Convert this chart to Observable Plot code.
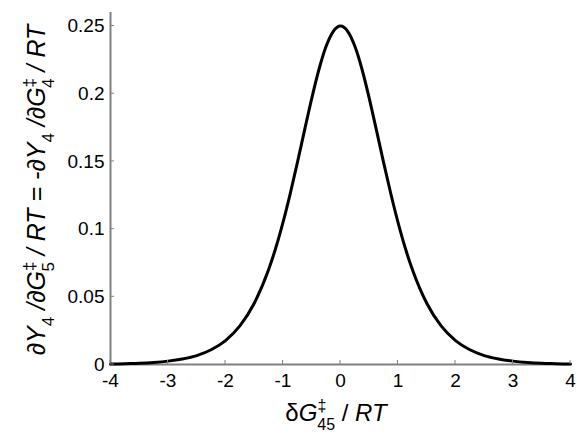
<!DOCTYPE html>
<html>
<head>
<meta charset="utf-8">
<script src="https://cdn.jsdelivr.net/npm/d3@7"></script>
<script src="https://cdn.jsdelivr.net/npm/@observablehq/plot@0.6"></script>
<style>
  html, body { margin: 0; padding: 0; background: #fff; }
  svg { display: block; }
</style>
</head>
<body>
<div id="chart"></div>
<script>
// δG‡45 / RT values
const xValues = [-4, -3.75, -3.5, -3.25, -3, -2.75, -2.5, -2.25, -2, -1.75, -1.5, -1.25, -1.125, -1, -0.875, -0.75, -0.625, -0.5, -0.375, -0.25, -0.125, 0,
  0.125, 0.25, 0.375, 0.5, 0.625, 0.75, 0.875, 1, 1.125, 1.25, 1.5, 1.75, 2, 2.25, 2.5, 2.75, 3, 3.25, 3.5, 3.75, 4];
// ∂Y4/∂G‡5 / RT values
const yValues = [0.0003, 0.0006, 0.0009, 0.0015, 0.0025, 0.0041, 0.0066, 0.0109, 0.0177, 0.0285, 0.0452, 0.0701, 0.0862, 0.1050, 0.1261, 0.1491, 0.1731, 0.1966, 0.2179, 0.2350, 0.2461, 0.2500,
  0.2461, 0.2350, 0.2179, 0.1966, 0.1731, 0.1491, 0.1261, 0.1050, 0.0862, 0.0701, 0.0452, 0.0285, 0.0177, 0.0109, 0.0066, 0.0041, 0.0025, 0.0015, 0.0009, 0.0006, 0.0003];
const xTicks = [-4, -3, -2, -1, 0, 1, 2, 3, 4];
const xTickLabels = ["-4", "-3", "-2", "-1", "0", "1", "2", "3", "4"];
const yTicks = [0, 0.05, 0.1, 0.15, 0.2, 0.25];
const yTickLabels = ["0", "0.05", "0.1", "0.15", "0.2", "0.25"];

const data = xValues.map((x, i) => ({x, y: yValues[i]}));
const axisColor = "#808080";
const font = "'Liberation Sans', Arial, sans-serif";

const svg = Plot.plot({
  width: 577,
  height: 436,
  marginLeft: 110,
  marginRight: 7,
  marginTop: 12,
  marginBottom: 72,
  style: {fontFamily: font, fontSize: "19px", color: "#000", background: "#fff"},
  x: {domain: [-4, 4]},
  y: {domain: [0, 0.26]},
  marks: [
    Plot.ruleY([0], {stroke: axisColor, strokeWidth: 2}),
    Plot.ruleX([-4], {stroke: axisColor, strokeWidth: 2}),
    Plot.axisX(xTicks, {tickSize: 0, tickPadding: 9, label: null, fill: "#000", fontSize: 19,
      tickFormat: (d) => xTickLabels[xTicks.indexOf(d)]}),
    Plot.axisY(yTicks, {tickSize: 0, tickPadding: 6, label: null, fill: "#000", fontSize: 19,
      tickFormat: (d) => yTickLabels[yTicks.indexOf(d)]}),
    Plot.line(data, {x: "x", y: "y", stroke: "#000", strokeWidth: 3, curve: "monotone-x"})
  ]
});

document.getElementById("chart").appendChild(svg);

const s = d3.select(svg);
const xs = svg.scale("x"), ys = svg.scale("y");
const X = (v) => xs.apply(v), Y = (v) => ys.apply(v);

// inward ticks
const g = s.append("g").attr("stroke", axisColor).attr("stroke-width", 1);
xTicks.forEach(t => g.append("line").attr("x1", X(t)).attr("x2", X(t)).attr("y1", Y(0)).attr("y2", Y(0) - 4));
yTicks.forEach(t => g.append("line").attr("x1", X(-4)).attr("x2", X(-4) + 4).attr("y1", Y(t)).attr("y2", Y(t)));

// x-axis label: δG‡45 / RT
const xl = s.append("text")
  .attr("x", 336).attr("y", 421)
  .attr("text-anchor", "middle")
  .attr("font-family", font)
  .attr("font-size", 24)
  .attr("fill", "#000");
xl.append("tspan").text("δ");
xl.append("tspan").attr("font-style", "italic").text("G");
xl.append("tspan").attr("font-size", 16).attr("dy", -10).text("‡");
xl.append("tspan").attr("font-size", 16).attr("dx", -9).attr("dy", 19).text("45");
xl.append("tspan").attr("dy", -9).text(" / ");
xl.append("tspan").attr("font-style", "italic").text("RT");

// y-axis label: ∂Y4/∂G‡5 / RT = -∂Y4/∂G‡4 / RT
const yl = s.append("text")
  .attr("transform", "translate(45,190) rotate(-90)")
  .attr("text-anchor", "middle")
  .attr("font-family", font)
  .attr("font-size", 25)
  .attr("font-style", "italic")
  .attr("fill", "#000");
let pendingDy = 0;
function part(sel, main, sub, sup) {
  sel.append("tspan").attr("dy", pendingDy).text(main);
  pendingDy = 0;
  if (sup) {
    sel.append("tspan").attr("font-size", 17).attr("font-style", "normal").attr("dy", -10).text(sup);
    sel.append("tspan").attr("font-size", 17).attr("font-style", "normal").attr("dx", -10).attr("dy", 19).text(sub);
    pendingDy = -9;
  } else if (sub) {
    sel.append("tspan").attr("font-size", 17).attr("font-style", "normal").attr("dy", 9).text(sub);
    pendingDy = -9;
  }
}
part(yl, "∂Y", "4");
part(yl, " /∂G", "5", "‡");
part(yl, " / RT = -∂Y", "4");
part(yl, " /∂G", "4", "‡");
part(yl, " / RT");
</script>
</body>
</html>
